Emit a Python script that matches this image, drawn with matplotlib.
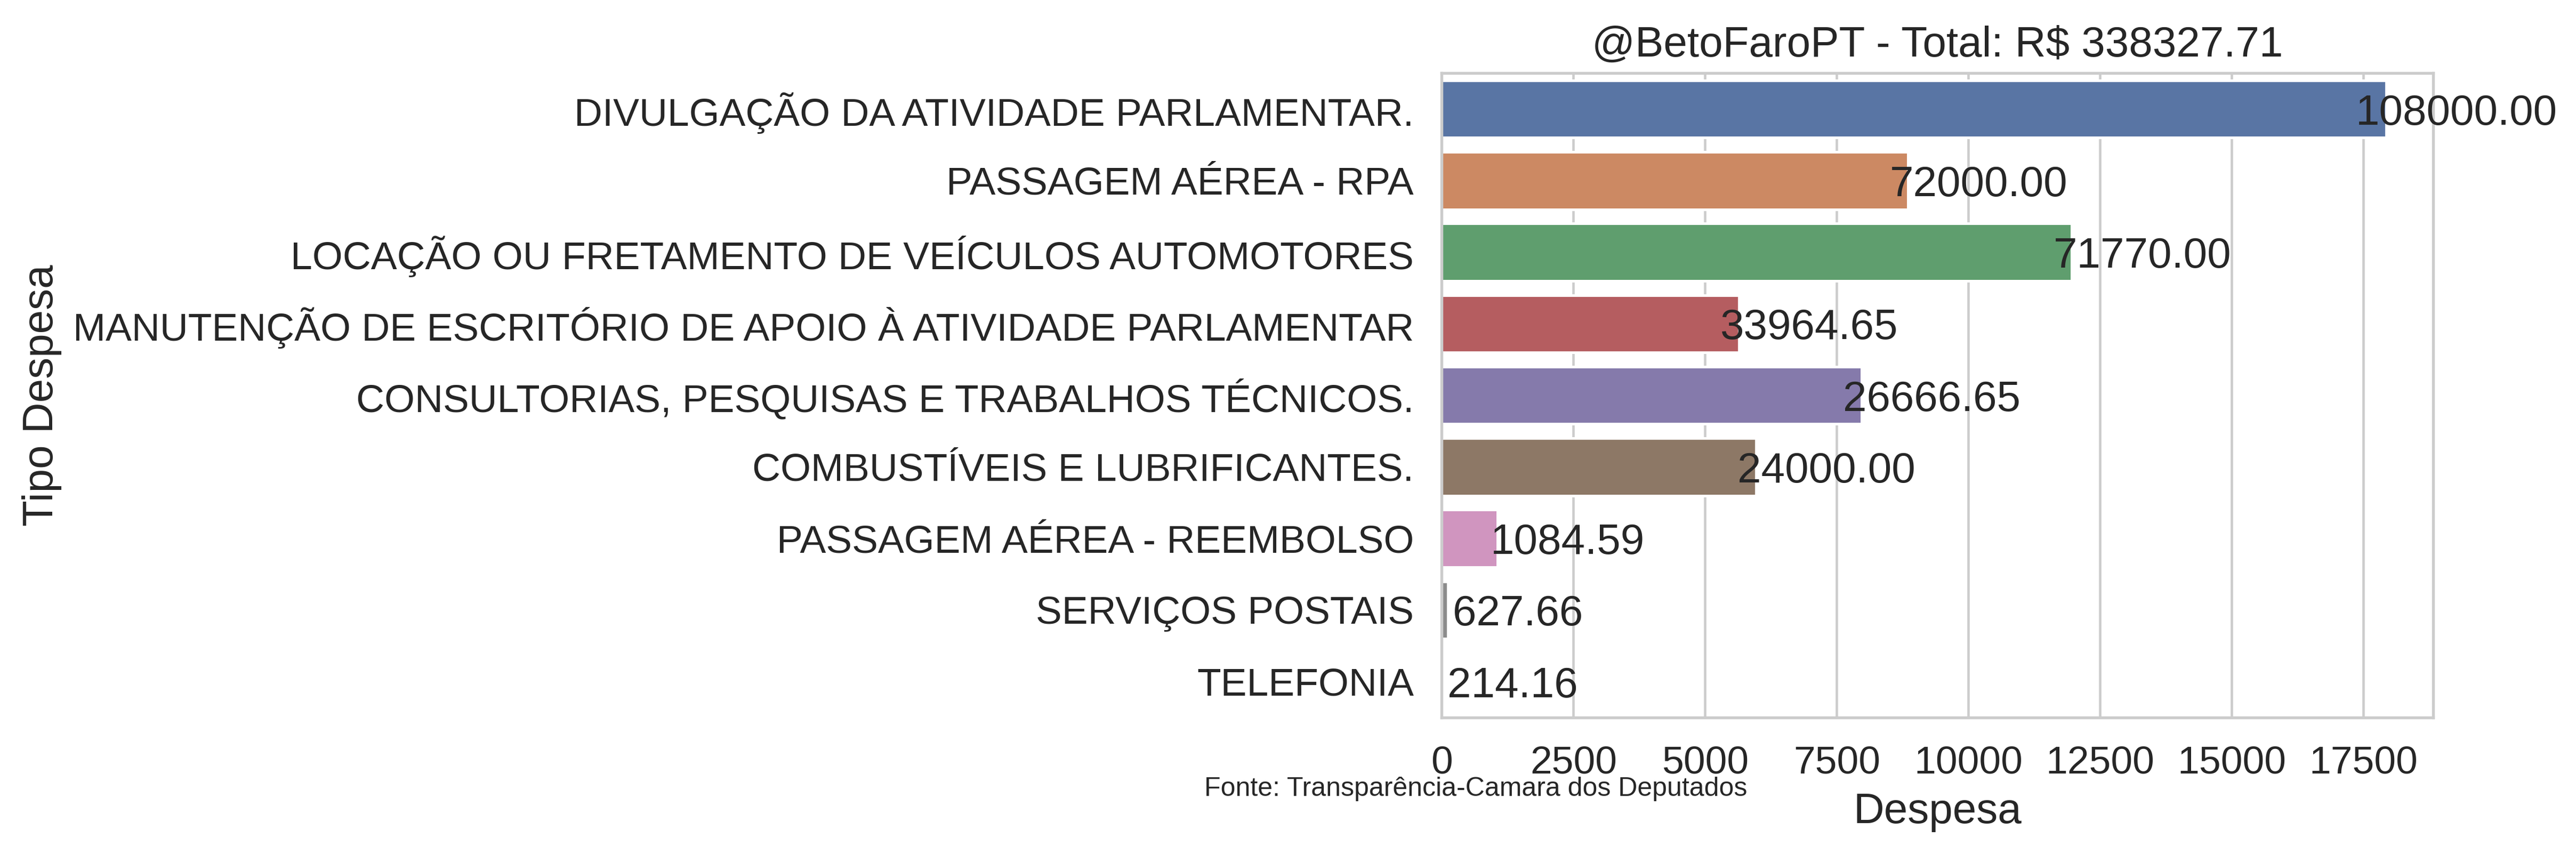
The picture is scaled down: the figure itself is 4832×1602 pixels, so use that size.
import matplotlib
matplotlib.use("Agg")
import matplotlib.pyplot as plt
import seaborn as sns
import pandas as pd

# expense categories (top to bottom)
categories = [
    "DIVULGAÇÃO DA ATIVIDADE PARLAMENTAR.",
    "PASSAGEM AÉREA - RPA",
    "LOCAÇÃO OU FRETAMENTO DE VEÍCULOS AUTOMOTORES",
    "MANUTENÇÃO DE ESCRITÓRIO DE APOIO À ATIVIDADE PARLAMENTAR",
    "CONSULTORIAS, PESQUISAS E TRABALHOS TÉCNICOS.",
    "COMBUSTÍVEIS E LUBRIFICANTES.",
    "PASSAGEM AÉREA - REEMBOLSO",
    "SERVIÇOS POSTAIS",
    "TELEFONIA",
]
# bar length = mean expense per entry
mean_values = [17930, 8855, 11962, 5640, 7970, 5968, 1055, 112, 8]
# annotated totals per category
totals = [108000.00, 72000.00, 71770.00, 33964.65, 26666.65,
          24000.00, 1084.59, 627.66, 214.16]

sns.set_theme(style="whitegrid")
plt.rcParams["font.family"] = ["Liberation Sans", "DejaVu Sans"]
plt.rcParams["axes.linewidth"] = 1.3
plt.rcParams["grid.linewidth"] = 1.1
plt.rcParams["patch.linewidth"] = 1.2

df = pd.DataFrame({"Tipo Despesa": categories, "Despesa": mean_values})

fig = plt.figure(figsize=(4832 / 300, 1602 / 300), dpi=300)
ax = fig.add_axes([0.5597, 0.1600, 0.3849, 0.7542])

sns.barplot(data=df, x="Despesa", y="Tipo Despesa", hue="Tipo Despesa",
            palette="deep", legend=False, ax=ax)

for i, (w, tot) in enumerate(zip(mean_values, totals)):
    ax.annotate(f"{tot:.2f}", xy=(w, i), xytext=(31.7, 0),
                textcoords="offset points", ha="center",
                va="center_baseline", fontsize=19.2, color=".15")

ax.tick_params(axis="both", length=0, pad=12.6, labelsize=17.6)
ax.set_xlabel("Despesa", fontsize=19.2, labelpad=5)
ax.set_ylabel("Tipo Despesa", fontsize=19.2, labelpad=5)
ax.set_title(f"@BetoFaroPT - Total: R$ {sum(totals):.2f}", fontsize=19.2, pad=7.6)

fig.text(2768 / 4832, 1 - 1493 / 1602, "Fonte: Transparência-Camara dos Deputados",
         ha="center", va="baseline", fontsize=12, color=".15")

fig.savefig("out.png", dpi=300, facecolor="white")
